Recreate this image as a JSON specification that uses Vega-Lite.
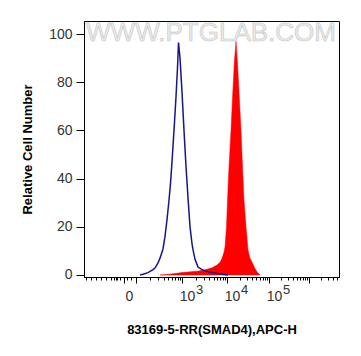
{
  "$schema": "https://vega.github.io/schema/vega-lite/v6.json",
  "width": 255,
  "height": 256,
  "autosize": {"type": "none"},
  "padding": {"left": 84, "top": 21, "right": 22, "bottom": 79},
  "background": "white",
  "config": {
    "view": {"stroke": "black", "strokeWidth": 1},
    "font": "Liberation Sans",
    "axis": {"grid": false, "domainColor": "black", "tickColor": "black", "labelColor": "#333333", "titleColor": "black"}
  },
  "datasets": {
    "blue": [
      {"x": 56, "count": 0}, {"x": 59, "count": 0.3}, {"x": 64, "count": 1.0}, {"x": 69, "count": 2.2},
      {"x": 71, "count": 2.9}, {"x": 74, "count": 5}, {"x": 76, "count": 7}, {"x": 79, "count": 10.8},
      {"x": 81, "count": 16}, {"x": 83, "count": 23}, {"x": 85, "count": 31}, {"x": 86.5, "count": 38},
      {"x": 88, "count": 47}, {"x": 90, "count": 60}, {"x": 92, "count": 74}, {"x": 93.5, "count": 86},
      {"x": 94.5, "count": 96.5}, {"x": 96, "count": 90}, {"x": 98, "count": 76}, {"x": 100, "count": 60},
      {"x": 102, "count": 45}, {"x": 104, "count": 32}, {"x": 106, "count": 20}, {"x": 108, "count": 13},
      {"x": 109, "count": 10.5}, {"x": 111, "count": 6.5}, {"x": 113, "count": 4.4}, {"x": 114, "count": 3.3},
      {"x": 118, "count": 2.2}, {"x": 122, "count": 1.6}, {"x": 126, "count": 1.1}, {"x": 132, "count": 0.7},
      {"x": 138, "count": 0.3}, {"x": 144, "count": 0}
    ],
    "red": [
      {"x": 76, "count": 0}, {"x": 83, "count": 0.2}, {"x": 91, "count": 0.6}, {"x": 98, "count": 1.0},
      {"x": 106, "count": 1.3}, {"x": 113, "count": 1.6}, {"x": 119, "count": 2.0}, {"x": 123, "count": 2.4},
      {"x": 128, "count": 3.0}, {"x": 133, "count": 4.1}, {"x": 136, "count": 5.3}, {"x": 138, "count": 6.8},
      {"x": 140, "count": 9.5}, {"x": 141, "count": 11.6}, {"x": 142.5, "count": 20}, {"x": 143.5, "count": 31},
      {"x": 145, "count": 45}, {"x": 147, "count": 60}, {"x": 148.7, "count": 75}, {"x": 150.3, "count": 88},
      {"x": 152, "count": 97}, {"x": 153.5, "count": 88}, {"x": 155, "count": 76}, {"x": 157, "count": 60},
      {"x": 158.5, "count": 45}, {"x": 160, "count": 31}, {"x": 162, "count": 20}, {"x": 164, "count": 10.4},
      {"x": 166, "count": 7}, {"x": 168, "count": 5.4}, {"x": 170, "count": 3.5}, {"x": 172, "count": 2},
      {"x": 174, "count": 0.8}, {"x": 176, "count": 0}
    ],
    "mark": [
      {"x": 127, "count": 100.4, "label": "WWW.PTGLAB.COM"}
    ]
  },
  "resolve": {"scale": {"x": "independent"}, "axis": {"x": "independent"}},
  "layer": [
    {
      "encoding": {
        "x": {
          "field": "x", "type": "quantitative",
          "scale": {"domain": [0, 255], "nice": false, "zero": false},
          "axis": {
            "orient": "bottom",
            "title": "83169-5-RR(SMAD4),APC-H",
            "titleFontSize": 13, "titleFontWeight": "bold", "titlePadding": 20,
            "values": [2, 7, 12, 17, 22, 27, 30, 31.5, 33, 36, 40, 43, 47, 52, 65.8, 74, 79.7, 84, 87.8, 90.9, 93.5, 95.9, 98, 111.5, 119.5, 125.1, 129.5, 133, 136, 138.6, 140.9, 143, 155.6, 163, 168.3, 172.4, 175.7, 178.5, 180.9, 183.1, 185, 197, 204.1, 209.1, 213, 216.1, 218.8, 221.1, 223.2, 225, 237, 244.1, 249.1, 253],
            "labelExpr": "datum.value == 40 ? '0' : (datum.value == 98 || datum.value == 143 || datum.value == 185) ? '10' : ''",
            "labelFontSize": 14, "labelOffset": 5, "labelPadding": 6, "labelOverlap": false, "labelFlush": false, "labelBound": false,
            "tickSize": {"condition": {"test": "datum.value == 40 || datum.value == 52 || datum.value == 98 || datum.value == 143 || datum.value == 185 || datum.value == 225", "value": 6}, "value": 3}
          }
        },
        "y": {
          "field": "count", "type": "quantitative",
          "scale": {"domain": [-0.83, 105.4], "nice": false, "zero": false},
          "axis": {
            "title": "Relative Cell Number",
            "titleFontSize": 13, "titleFontWeight": "bold", "titlePadding": 14,
            "values": [0, 5, 10, 15, 20, 25, 30, 35, 40, 45, 50, 55, 60, 65, 70, 75, 80, 85, 90, 95, 100],
            "labelExpr": "datum.value % 20 == 0 ? datum.value : ''",
            "labelFontSize": 14, "labelPadding": 4, "labelOverlap": false,
            "tickSize": {"condition": {"test": "datum.value % 20 == 0", "value": 8}, "value": 4}
          }
        }
      },
      "layer": [
        {
          "data": {"name": "red"},
          "mark": {"type": "area", "color": "#ff0000", "line": false, "stroke": "#ff0000", "strokeWidth": 0.5}
        },
        {
          "data": {"name": "blue"},
          "mark": {"type": "line", "color": "#16168c", "strokeWidth": 1.5}
        }
      ]
    },
    {
      "data": {"name": "mark"},
      "mark": {"type": "text", "fontSize": 26, "color": "#ececec", "stroke": "#c4c4c4", "strokeWidth": 0.6, "font": "Liberation Sans"},
      "encoding": {
        "x": {
          "field": "x", "type": "quantitative",
          "scale": {"domain": [0, 255], "nice": false, "zero": false},
          "axis": {
            "orient": "bottom", "title": null, "domain": false, "ticks": false,
            "values": [98, 143, 185],
            "labelExpr": "datum.value == 98 ? '3' : datum.value == 143 ? '4' : '5'",
            "labelFontSize": 13, "labelOffset": 17, "labelPadding": 6, "labelOverlap": false, "labelFlush": false, "labelBound": false
          }
        },
        "y": {"field": "count", "type": "quantitative", "scale": {"domain": [-0.83, 105.4], "nice": false, "zero": false}},
        "text": {"field": "label"}
      }
    }
  ]
}
